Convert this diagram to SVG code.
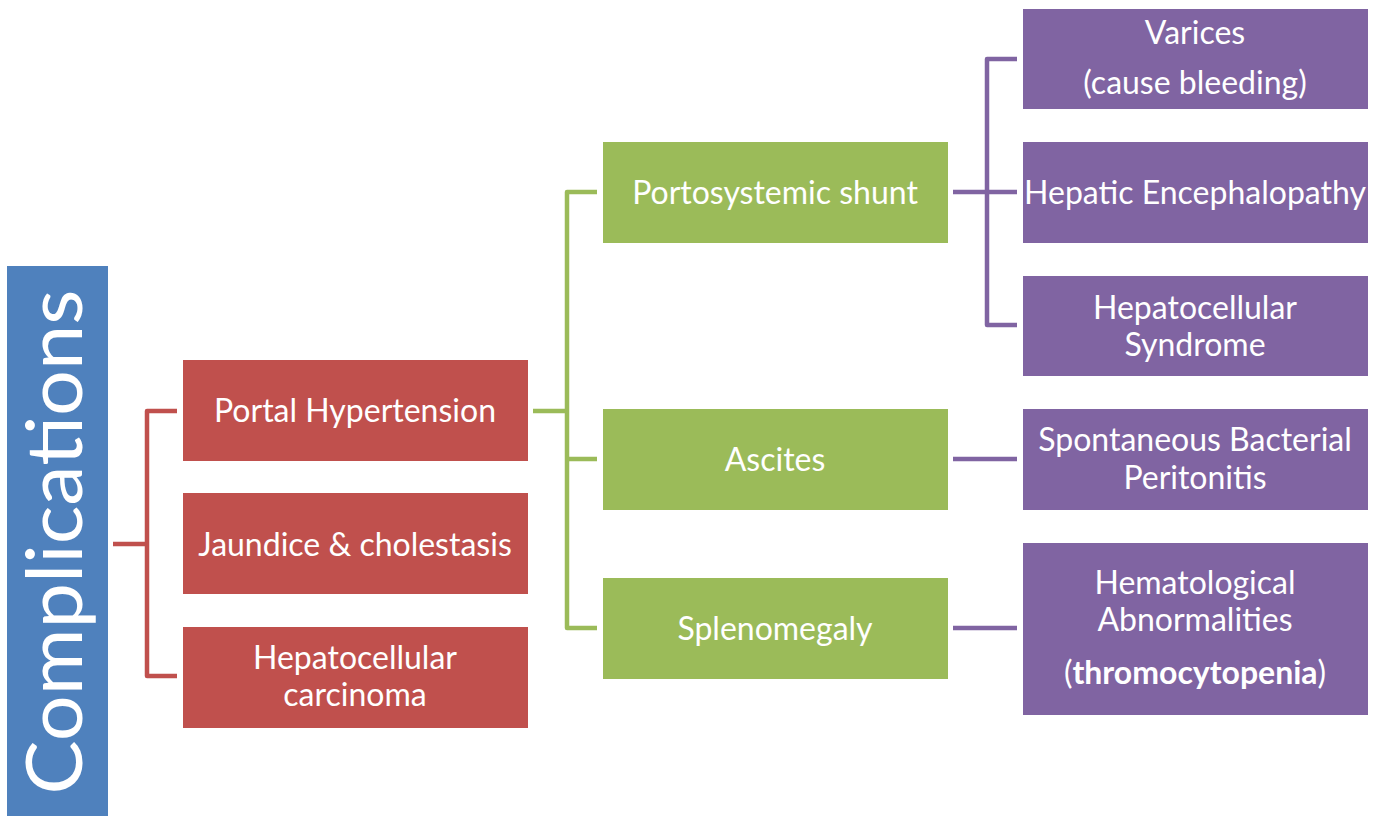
<svg xmlns="http://www.w3.org/2000/svg" width="1384" height="816" viewBox="0 0 1384 816">
<style>
.t{font-family:Lato,"Open Sans","Liberation Sans",sans-serif;font-size:32px;fill:#fff;text-anchor:middle}
.red{fill:#C0504D}.green{fill:#9BBB59}.purple{fill:#8064A2}.blue{fill:#4F81BD}
.c{fill:none;stroke-width:4.5;stroke-linejoin:round;stroke-linecap:butt}
</style>
<rect width="1384" height="816" fill="#fff"/>
<g id="complications">
<rect class="blue" x="7" y="266" width="101" height="550"/>
<text x="82" y="542" transform="rotate(-90 82 542)" textLength="505" lengthAdjust="spacingAndGlyphs" style="font-family:Lato,'Open Sans','Liberation Sans',sans-serif;font-size:78px;fill:#fff;text-anchor:middle">Complications</text>
</g>
<g id="connectors">
<path class="c" stroke="#C0504D" d="M113 544H147M177 411H147V676H177"/>
<path class="c" stroke="#9BBB59" d="M533 411H567M597 192H567V628H597M567 459H597"/>
<path class="c" stroke="#8064A2" d="M953 192H1017M1017 59H987V325H1017M953 459H1017M953 628H1017"/>
</g>
<g id="portal-hypertension"><rect class="red" x="183" y="360" width="345" height="101"/><text class="t" x="355" y="422">Portal Hypertension</text></g>
<g id="jaundice"><rect class="red" x="183" y="493" width="345" height="101"/><text class="t" x="355" y="556">Jaundice &amp; cholestasis</text></g>
<g id="hcc"><rect class="red" x="183" y="627" width="345" height="101"/><text class="t" x="355" y="669">Hepatocellular</text><text class="t" x="355" y="706">carcinoma</text></g>
<g id="portosystemic-shunt"><rect class="green" x="603" y="142" width="345" height="101"/><text class="t" x="775" y="204">Portosystemic shunt</text></g>
<g id="ascites"><rect class="green" x="603" y="409" width="345" height="101"/><text class="t" x="775" y="471">Ascites</text></g>
<g id="splenomegaly"><rect class="green" x="603" y="578" width="345" height="101"/><text class="t" x="775" y="640">Splenomegaly</text></g>
<g id="varices"><rect class="purple" x="1023" y="9" width="345" height="100"/><text class="t" x="1195" y="44">Varices</text><text class="t" x="1195" y="94">(cause bleeding)</text></g>
<g id="hepatic-encephalopathy"><rect class="purple" x="1023" y="142" width="345" height="101"/><text class="t" x="1195" y="204">Hepatic Encephalopathy</text></g>
<g id="hepatocellular-syndrome"><rect class="purple" x="1023" y="276" width="345" height="100"/><text class="t" x="1195" y="319">Hepatocellular</text><text class="t" x="1195" y="356">Syndrome</text></g>
<g id="sbp"><rect class="purple" x="1023" y="409" width="345" height="101"/><text class="t" x="1195" y="451">Spontaneous Bacterial</text><text class="t" x="1195" y="489">Peritonitis</text></g>
<g id="hematological"><rect class="purple" x="1023" y="543" width="345" height="172"/><text class="t" x="1195" y="594">Hematological</text><text class="t" x="1195" y="631">Abnormalities</text><text class="t" x="1195" y="684">(<tspan font-weight="bold">thromocytopenia</tspan>)</text></g>
</svg>
